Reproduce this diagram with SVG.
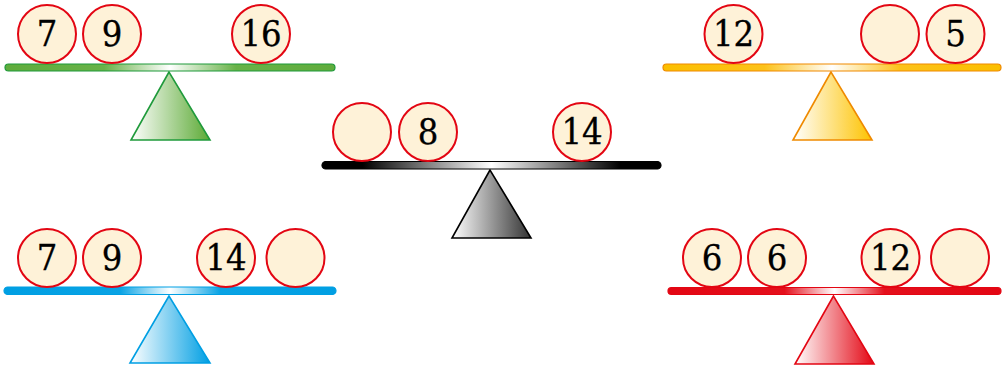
<svg xmlns="http://www.w3.org/2000/svg" width="1004" height="368" viewBox="0 0 1004 368">
<style>
.ball{fill:#fef2d8;stroke:#e30613;stroke-width:2}
.num{font-family:"DejaVu Serif Condensed","DejaVu Serif",serif;font-stretch:condensed;font-size:36px;fill:#000;stroke:#000;stroke-width:0.3;text-anchor:middle}
.tri{stroke-width:1.6;stroke-linejoin:miter}
.beam{stroke-width:1.2}
</style>
<defs>
<linearGradient id="bG" x1="0" x2="1" y1="0" y2="0"><stop offset="0" stop-color="#5fac3c"/><stop offset="0.3" stop-color="#68b248"/><stop offset="0.5" stop-color="#fff"/><stop offset="0.7" stop-color="#68b248"/><stop offset="1" stop-color="#5fac3c"/></linearGradient>
<linearGradient id="tG" x1="0" x2="1" y1="0" y2="0"><stop offset="0" stop-color="#fff"/><stop offset="1" stop-color="#5caa35"/></linearGradient>
<linearGradient id="bK" x1="0" x2="1" y1="0" y2="0"><stop offset="0" stop-color="#000"/><stop offset="0.12" stop-color="#000"/><stop offset="0.5" stop-color="#fff"/><stop offset="0.88" stop-color="#000"/><stop offset="1" stop-color="#000"/></linearGradient>
<linearGradient id="tK" x1="0" x2="1" y1="0" y2="0"><stop offset="0" stop-color="#fff"/><stop offset="1" stop-color="#333"/></linearGradient>
<linearGradient id="bO" x1="0" x2="1" y1="0" y2="0"><stop offset="0" stop-color="#fbbf00"/><stop offset="0.3" stop-color="#fcc21a"/><stop offset="0.5" stop-color="#fff"/><stop offset="0.7" stop-color="#fcc21a"/><stop offset="1" stop-color="#fbbf00"/></linearGradient>
<linearGradient id="tO" x1="0" x2="1" y1="0" y2="0"><stop offset="0" stop-color="#fff"/><stop offset="1" stop-color="#fdc300"/></linearGradient>
<linearGradient id="bB" x1="0" x2="1" y1="0" y2="0"><stop offset="0" stop-color="#009fe3"/><stop offset="0.35" stop-color="#0aa3e4"/><stop offset="0.5" stop-color="#fff"/><stop offset="0.65" stop-color="#0aa3e4"/><stop offset="1" stop-color="#009fe3"/></linearGradient>
<linearGradient id="tB" x1="0" x2="1" y1="0" y2="0"><stop offset="0" stop-color="#fff"/><stop offset="1" stop-color="#009fe3"/></linearGradient>
<linearGradient id="bR" x1="0" x2="1" y1="0" y2="0"><stop offset="0" stop-color="#e30613"/><stop offset="0.35" stop-color="#e4101c"/><stop offset="0.5" stop-color="#fff"/><stop offset="0.65" stop-color="#e4101c"/><stop offset="1" stop-color="#e30613"/></linearGradient>
<linearGradient id="tR" x1="0" x2="1" y1="0" y2="0"><stop offset="0" stop-color="#fff"/><stop offset="1" stop-color="#e30613"/></linearGradient>
</defs>

<g id="seesaw-green">
<polygon class="tri" points="169,72 131,140 210,140" fill="url(#tG)" stroke="#1f9a3b"/>
<rect class="beam" x="5" y="64" width="330" height="7" rx="3.5" fill="url(#bG)" stroke="#1f9a3b"/>
<g id="g-ball1"><circle class="ball" cx="47" cy="34" r="29"/><text class="num" x="47" y="46">7</text></g>
<g id="g-ball2"><circle class="ball" cx="112" cy="34" r="29"/><text class="num" x="112" y="46">9</text></g>
<g id="g-ball3"><circle class="ball" cx="261" cy="34" r="29"/><text class="num" x="261" y="46">16</text></g>
</g>

<g id="seesaw-black">
<polygon class="tri" points="490,170 452,238 531,238" fill="url(#tK)" stroke="#000"/>
<rect class="beam" x="322" y="161.5" width="339" height="7.5" rx="3.7" fill="url(#bK)" stroke="#000"/>
<g id="k-ball1"><circle class="ball" cx="362" cy="132" r="29"/></g>
<g id="k-ball2"><circle class="ball" cx="428" cy="132" r="29"/><text class="num" x="428" y="144">8</text></g>
<g id="k-ball3"><circle class="ball" cx="582" cy="132" r="29"/><text class="num" x="582" y="144">14</text></g>
</g>

<g id="seesaw-orange">
<polygon class="tri" points="831,72 793,140 872,140" fill="url(#tO)" stroke="#ef8a00"/>
<rect class="beam" x="663" y="64" width="338" height="7" rx="3.5" fill="url(#bO)" stroke="#ef8a00"/>
<g id="o-ball1"><circle class="ball" cx="733.5" cy="34" r="29"/><text class="num" x="733.5" y="46">12</text></g>
<g id="o-ball2"><circle class="ball" cx="890" cy="34" r="29"/></g>
<g id="o-ball3"><circle class="ball" cx="955.5" cy="34" r="29"/><text class="num" x="955.5" y="46">5</text></g>
</g>

<g id="seesaw-blue">
<polygon class="tri" points="169,296 130,363 210,363" fill="url(#tB)" stroke="#009fe3"/>
<rect class="beam" x="4" y="287" width="332" height="7.5" rx="3.7" fill="url(#bB)" stroke="#009fe3"/>
<g id="b-ball1"><circle class="ball" cx="47" cy="258" r="29"/><text class="num" x="47" y="270">7</text></g>
<g id="b-ball2"><circle class="ball" cx="112" cy="258" r="29"/><text class="num" x="112" y="270">9</text></g>
<g id="b-ball3"><circle class="ball" cx="226" cy="258" r="29"/><text class="num" x="226" y="270">14</text></g>
<g id="b-ball4"><circle class="ball" cx="295.5" cy="258" r="29"/></g>
</g>

<g id="seesaw-red">
<polygon class="tri" points="833.5,296 795,364 874,364" fill="url(#tR)" stroke="#e30613"/>
<rect class="beam" x="668" y="287.5" width="333" height="7" rx="3.5" fill="url(#bR)" stroke="#e30613"/>
<g id="r-ball1"><circle class="ball" cx="712" cy="258" r="29"/><text class="num" x="712" y="270">6</text></g>
<g id="r-ball2"><circle class="ball" cx="777" cy="258" r="29"/><text class="num" x="777" y="270">6</text></g>
<g id="r-ball3"><circle class="ball" cx="890.5" cy="258" r="29"/><text class="num" x="890.5" y="270">12</text></g>
<g id="r-ball4"><circle class="ball" cx="960" cy="258" r="29"/></g>
</g>
</svg>
